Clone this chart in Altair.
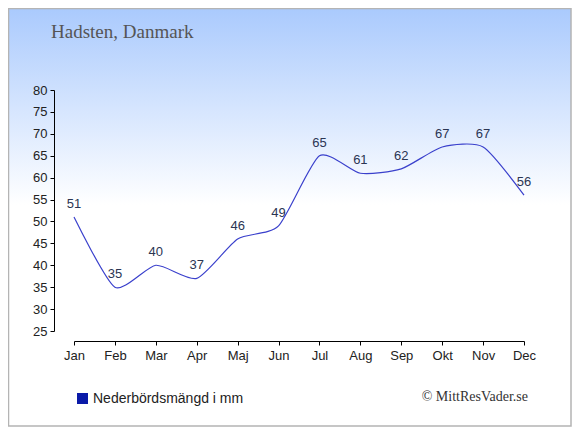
import altair as alt
import pandas as pd

months = ["Jan", "Feb", "Mar", "Apr", "Maj", "Jun", "Jul", "Aug", "Sep", "Okt", "Nov", "Dec"]
precip = [51, 35, 40, 37, 46, 49, 65, 61, 62, 67, 67, 56]
y_ticks = [25, 30, 35, 40, 45, 50, 55, 60, 65, 70, 75, 80]
title_text = "Hadsten, Danmark"
legend_text = "Nederbördsmängd i mm"
credit_text = "© MittResVader.se"

df = pd.DataFrame({"month": months, "value": precip})
one = pd.DataFrame({"a": [0]})

W, H = 450, 241
PL, PT, PR, PB = 66, 82, 48, 96

x_enc = alt.X("month:O", sort=months, title=None,
              scale=alt.Scale(type="point", padding=0),
              axis=alt.Axis(labelAngle=0, offset=10, tickSize=4, labelPadding=4,
                            labelFont="Liberation Sans", labelFontSize=13,
                            labelColor="#222222", domainColor="#000000",
                            tickColor="#000000", grid=False, zindex=2,
                            labelOverlap=False, labelFlush=False))
y_enc = alt.Y("value:Q", title=None,
              scale=alt.Scale(domain=[25, 80], nice=False, zero=False),
              axis=alt.Axis(values=y_ticks, offset=20, tickSize=4, labelPadding=3,
                            labelFont="Liberation Sans", labelFontSize=13,
                            labelColor="#222222", domainColor="#000000",
                            tickColor="#000000", grid=False, zindex=2,
                            labelOverlap=False, labelFlush=False, labelBound=False))

bg = alt.Chart(one).mark_rect(
    fill=alt.Gradient(gradient="linear", x1=0, y1=0, x2=0, y2=1,
                      stops=[alt.GradientStop(offset=0, color="#aacafd"),
                             alt.GradientStop(offset=0.47, color="#ffffff"),
                             alt.GradientStop(offset=1, color="#ffffff")]),
    stroke="#b4b4b4", strokeWidth=1.5
).encode(x=alt.value(-PL + 0.5), x2=alt.value(W + PR - 1),
         y=alt.value(-PT + 0.5), y2=alt.value(H + PB - 1))

line = alt.Chart(df).mark_line(interpolate="cardinal", tension=0.35, color="#3a40cc",
                               strokeWidth=1.2).encode(x=x_enc, y=y_enc)

labels = alt.Chart(df).mark_text(dy=-13, fontSize=13, font="Liberation Sans",
                                 color="#2b3553").encode(
    x=x_enc, y=y_enc, text="value:Q")

title = alt.Chart(one).mark_text(text=title_text, font="Liberation Serif", fontSize=19,
                                 color="#555555", align="left", baseline="alphabetic").encode(
    x=alt.value(51 - 74), y=alt.value(38 - 90))

leg_sq = alt.Chart(one).mark_square(size=121, color="#0a1aa8", opacity=1).encode(
    x=alt.value(82.5 - 74), y=alt.value(398.5 - 90))

leg_txt = alt.Chart(one).mark_text(text=legend_text, font="Liberation Sans", fontSize=14,
                                   color="#222222", align="left", baseline="middle").encode(
    x=alt.value(93 - 74), y=alt.value(398.5 - 90))

credit = alt.Chart(one).mark_text(text=credit_text, font="Liberation Serif", fontSize=14,
                                  color="#333333", align="right", baseline="middle").encode(
    x=alt.value(528 - 74), y=alt.value(397 - 90))

chart = alt.layer(bg, line, labels, title, leg_sq, leg_txt, credit).properties(
    width=W, height=H, autosize=alt.AutoSizeParams(type="none"),
    padding={"left": PL, "top": PT, "right": PR, "bottom": PB}
).configure_view(stroke=None).configure(background="#ffffff")

chart.save("out.html", embed_options={"renderer": "svg", "actions": False})
